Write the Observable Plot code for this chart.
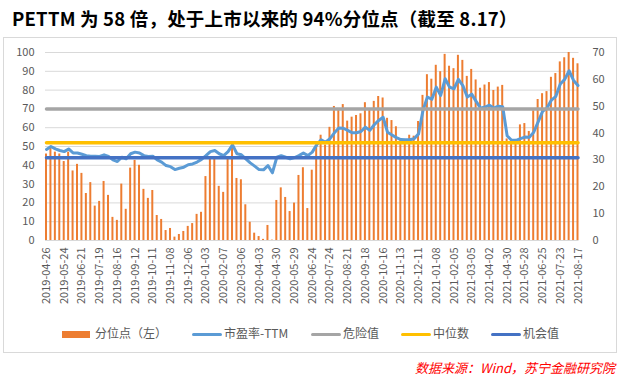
<!DOCTYPE html>
<html><head><meta charset="utf-8">
<script src="https://cdn.jsdelivr.net/npm/d3@7"></script>
<script src="https://cdn.jsdelivr.net/npm/@observablehq/plot@0.6"></script>
<style>
body{margin:0;background:#fff;font-family:"Noto Sans CJK SC","Noto Sans",sans-serif;}
#title{height:37px;line-height:36px;padding-left:12px;font-size:18.5px;letter-spacing:0.2px;font-weight:bold;color:#000;white-space:nowrap;}
#frame{margin-left:3px;width:612px;height:314px;border:1px solid #D9D9D9;position:relative;}
#frame svg{display:block;}
#legend{position:absolute;left:0;top:282px;width:612px;height:26px;font-size:12px;color:#595959;}
#legend .item{position:absolute;top:0;height:26px;line-height:26px;white-space:nowrap;}
#legend .sw{display:inline-block;vertical-align:middle;margin-right:2px;}
#source{text-align:right;padding-right:5px;margin-top:5px;line-height:20px;font-size:13px;font-style:italic;color:#FF0000;white-space:nowrap;}
</style></head>
<body>
<div id="title">PETTM 为 58 倍，处于上市以来的 94%分位点（截至 8.17）</div>
<div id="frame"><div id="chart"></div><div id="legend"></div></div>
<div id="source">数据来源：Wind，苏宁金融研究院</div>
<script>
const tickLabels = ["2019-04-26","2019-05-24","2019-06-21","2019-07-19","2019-08-16","2019-09-12","2019-10-11","2019-11-08","2019-12-06","2020-01-03","2020-02-07","2020-03-06","2020-04-03","2020-04-30","2020-05-29","2020-06-24","2020-07-24","2020-08-21","2020-09-18","2020-10-16","2020-11-13","2020-12-11","2021-01-08","2021-02-05","2021-03-05","2021-04-02","2021-04-30","2021-05-28","2021-06-25","2021-07-23","2021-08-17"];

// 分位点（左轴，%）
const percentile = [46,49,47,46,42,47,37,40.5,35.7,25,30.8,18.3,20.8,31.4,24,12.3,10.7,30,16.6,38.5,
42.6,40,27.2,22.4,26.6,13.3,11.2,5.3,6.4,1.8,3.2,4.8,7.5,9,13.9,15,34,44,44,28.8,
25.6,43.5,50,33,32.3,19,9.7,3.9,2.1,0.6,8,0.2,21.3,28,22.9,15.4,19.9,34.6,38.7,17,
37.4,50.5,56,50.8,60.2,71.3,69.2,72.3,63.5,65.6,66.5,67.4,73.3,69.5,74,76.6,75.8,65,63.8,60.5,
54,53.5,56,55.5,63.3,77.2,88.2,85.8,93.2,89.8,99,92.7,91.4,98.5,95.8,87.3,91,85.4,81,82.7,
84,79.8,81.6,82.5,54,52,53,61.5,62.2,58,69,75,78.1,79.2,86.8,88.8,95,97.2,100,96.9,
94];

// 市盈率-TTM（右轴）
const pe = [33.9,35.0,34.1,33.5,33.1,34.1,32.6,32.6,32.1,31.6,31.4,31.4,31.3,31.9,31.3,30.0,29.4,31.0,30.4,32.3,
32.9,32.6,31.6,31.3,31.4,30.0,29.2,27.9,27.5,26.4,26.9,27.3,28.2,28.5,29.2,30.2,31.6,33.1,33.5,32.3,
31.6,33.1,35.6,32.3,31.9,30.4,28.9,27.7,26.4,26.3,27.9,25.2,31.0,31.6,31.0,30.4,30.9,31.6,32.6,31.6,
32.9,35.6,37.5,36.6,37.9,40.1,41.9,41.8,41.0,40.1,40.1,40.6,42.2,41.0,43.1,44.7,45.9,40.3,39.3,38.3,
37.6,37.5,37.5,37.9,39.7,48.4,53.4,52.6,57.1,54.0,60.2,57.1,56.5,60.0,57.7,53.4,54.5,51.8,49.3,49.7,
50.4,49.3,50.0,49.8,39.0,37.3,37.3,37.9,38.5,38.4,40.3,44.2,48.1,49.3,52.3,53.7,58.3,60.0,63.2,59.6,
57.7];

const dangerValue = 49.0;      // 危险值
const medianValue = 36.4;      // 中位数
const opportunityValue = 30.8; // 机会值

const leftTicks = [0,10,20,30,40,50,60,70,80,90,100];
const rightTicks = [0,10,20,30,40,50,60,70];
const leftMax = 100, rightMax = 70;
const k = rightMax / leftMax;

const idx = d3.range(percentile.length);
const rows = idx.map(i => ({i, p: percentile[i], pe: pe[i]}));
const grey = "#595959";

const chart = Plot.plot({
  width: 612, height: 282,
  marginTop: 14, marginBottom: 80, marginLeft: 41, marginRight: 37.5,
  style: {fontFamily: '"Noto Sans CJK SC","Noto Sans",sans-serif', fontSize: "11px", color: grey, background: "transparent", overflow: "visible"},
  x: {type: "band", domain: idx, paddingInner: 0.55, paddingOuter: 0, axis: null},
  y: {domain: [0, leftMax], axis: null},
  marks: [
    Plot.gridY(leftTicks, {stroke: "#D9D9D9", strokeOpacity: 1}),
    Plot.barY(rows, {x: "i", y: "p", fill: "#ED7D31"}),
    Plot.line(rows, {x: "i", y: d => d.pe / k, stroke: "#5B9BD5", strokeWidth: 3, strokeLinejoin: "round"}),
    Plot.line(rows, {x: "i", y: () => dangerValue / k, stroke: "#A5A5A5", strokeWidth: 3.5}),
    Plot.line(rows, {x: "i", y: () => medianValue / k, stroke: "#FFC000", strokeWidth: 3.5}),
    Plot.line(rows, {x: "i", y: () => opportunityValue / k, stroke: "#4472C4", strokeWidth: 3.5}),
    Plot.axisY(leftTicks, {anchor: "left", tickSize: 0, tickPadding: 11, fill: grey, fontSize: 11, label: null}),
    Plot.axisY(rightTicks.map(v => v / k), {anchor: "right", tickSize: 0, tickPadding: 13.5, fill: grey, fontSize: 11, label: null, tickFormat: d => String(Math.round(d * k))}),
    Plot.axisX(d3.range(0, percentile.length, 4), {anchor: "bottom", tickSize: 0, tickPadding: 7, tickRotate: -90, fill: grey, fontSize: 11, label: null, tickFormat: i => tickLabels[i / 4]})
  ]
});
document.getElementById("chart").appendChild(chart);

const legendItems = [
  {label: "分位点（左）", color: "#ED7D31", type: "rect", left: 58},
  {label: "市盈率-TTM", color: "#5B9BD5", type: "line", left: 188},
  {label: "危险值", color: "#A5A5A5", type: "line", left: 307},
  {label: "中位数", color: "#FFC000", type: "line", left: 397},
  {label: "机会值", color: "#4472C4", type: "line", left: 487}
];
const legend = document.getElementById("legend");
for (const it of legendItems) {
  const d = document.createElement("div");
  d.className = "item";
  d.style.left = it.left + "px";
  const sw = document.createElement("span");
  sw.className = "sw";
  if (it.type === "rect") { sw.style.width = "28px"; sw.style.height = "7px"; sw.style.marginRight = "5px"; }
  else { sw.style.width = "30px"; sw.style.height = "3px"; sw.style.borderRadius = "1.5px"; }
  sw.style.background = it.color;
  d.appendChild(sw);
  d.appendChild(document.createTextNode(it.label));
  legend.appendChild(d);
}
</script>
</body></html>
